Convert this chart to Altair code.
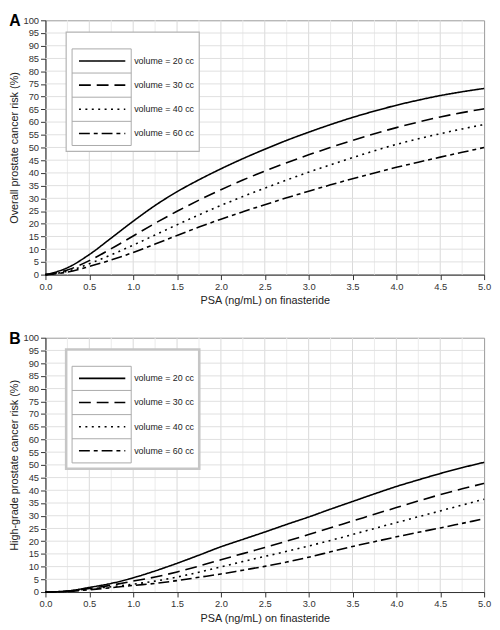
import altair as alt
import pandas as pd

psa = [0.0, 0.25, 0.5, 0.75, 1.0, 1.25, 1.5, 1.75, 2.0, 2.25, 2.5, 2.75, 3.0,
       3.25, 3.5, 3.75, 4.0, 4.25, 4.5, 4.75, 5.0]

series_names = ["volume = 20 cc", "volume = 30 cc", "volume = 40 cc", "volume = 60 cc"]

# Panel A: overall prostate cancer risk (%)
a_20 = [0, 2.7, 7.9, 14.4, 21.0, 27.2, 32.6, 37.3, 41.6, 45.6, 49.3, 52.8, 56.0,
        59.0, 61.8, 64.3, 66.6, 68.6, 70.4, 71.9, 73.2]
a_30 = [0, 1.8, 5.5, 10.2, 15.2, 20.2, 24.9, 29.3, 33.4, 37.2, 40.7, 44.0, 47.1,
        50.0, 52.8, 55.4, 57.8, 60.0, 62.0, 63.7, 65.2]
a_40 = [0, 1.3, 4.3, 7.8, 11.6, 15.6, 19.6, 23.5, 27.2, 30.7, 34.0, 37.2, 40.3,
        43.2, 46.0, 48.7, 51.2, 53.4, 55.4, 57.3, 59.0]
a_60 = [0, 1.0, 3.2, 5.8, 8.7, 12.0, 15.4, 18.7, 21.8, 24.7, 27.5, 30.2, 32.8,
        35.3, 37.7, 40.0, 42.2, 44.2, 46.2, 48.1, 50.0]

# Panel B: high-grade prostate cancer risk (%)
b_20 = [0, 0.4, 1.8, 3.4, 5.6, 8.3, 11.3, 14.5, 17.8, 20.7, 23.6, 26.6, 29.5,
        32.6, 35.6, 38.6, 41.5, 44.1, 46.6, 48.9, 51.0]
b_30 = [0, 0.35, 1.4, 2.7, 4.3, 5.9, 7.9, 10.2, 12.7, 15.1, 17.5, 20.0, 22.6,
        25.3, 27.9, 30.6, 33.2, 35.8, 38.3, 40.6, 42.7]
b_40 = [0, 0.3, 1.2, 2.1, 3.1, 4.3, 5.9, 7.8, 9.9, 12.0, 14.0, 16.0, 18.1,
        20.3, 22.6, 25.0, 27.3, 29.6, 31.9, 34.2, 36.5]
b_60 = [0, 0.25, 0.9, 1.7, 2.6, 3.4, 4.5, 5.8, 7.1, 8.6, 10.1, 11.8, 13.7,
        15.8, 17.9, 19.8, 21.7, 23.5, 25.2, 27.0, 28.8]

x_ticks = [0.0, 0.5, 1.0, 1.5, 2.0, 2.5, 3.0, 3.5, 4.0, 4.5, 5.0]
y_ticks = list(range(0, 101, 5))
x_grid_minor = [0.25, 0.75, 1.25, 1.75, 2.25, 2.75, 3.25, 3.75, 4.25, 4.75]
x_grid_major = [0.5, 1.0, 1.5, 2.0, 2.5, 3.0, 3.5, 4.0, 4.5]
y_grid = list(range(5, 100, 5))

dashes = [[1, 0], [12, 6], [2, 4.5], [11, 4, 4, 4]]

FONT = "Liberation Sans"
W, H = 445, 258


def long_df(cols):
    rows = []
    for name, vals in zip(series_names, cols):
        for x, y in zip(psa, vals):
            rows.append({"psa": x, "risk": y, "series": name})
    return pd.DataFrame(rows)


def panel(cols, ytitle, letter, box_color, box_width):
    df = long_df(cols)
    xs = alt.Scale(domain=[0, 5], nice=False)
    ys = alt.Scale(domain=[0, 100], nice=False)
    xaxis = alt.Axis(values=x_ticks, format=".1f", title="PSA (ng/mL) on finasteride")
    yaxis = alt.Axis(values=y_ticks, title=ytitle)

    gminor = alt.Chart(pd.DataFrame({"g": x_grid_minor})).mark_rule(
        color="#ebebeb", strokeWidth=1).encode(x=alt.X("g:Q", scale=xs, axis=xaxis))
    gmajor = alt.Chart(pd.DataFrame({"g": x_grid_major})).mark_rule(
        color="#d9d9d9", strokeWidth=1).encode(x=alt.X("g:Q", scale=xs, axis=xaxis))
    gy = alt.Chart(pd.DataFrame({"g": y_grid})).mark_rule(
        color="#e0e0e0", strokeWidth=1).encode(y=alt.Y("g:Q", scale=ys, axis=yaxis))

    lines = alt.Chart(df).mark_line(color="black", strokeWidth=1.6,
                                    interpolate="monotone").encode(
        x=alt.X("psa:Q", scale=xs, axis=xaxis),
        y=alt.Y("risk:Q", scale=ys, axis=yaxis),
        strokeDash=alt.StrokeDash("series:N",
                                  scale=alt.Scale(domain=series_names, range=dashes),
                                  legend=None),
        detail="series:N",
    )

    layers = [gminor, gmajor, gy, lines]

    # legend box
    layers.append(alt.Chart(pd.DataFrame({"a": [0]})).mark_rect(
        fill="white", stroke=box_color, strokeWidth=box_width).encode(
        x=alt.value(21), x2=alt.value(156), y=alt.value(12), y2=alt.value(133)))
    layers.append(alt.Chart(pd.DataFrame({"a": [0]})).mark_rect(
        fill="white", stroke="#aaaaaa", strokeWidth=1).encode(
        x=alt.value(27), x2=alt.value(87), y=alt.value(29), y2=alt.value(127)))
    row_h = 24.5
    for i, name in enumerate(series_names):
        cy = 29 + row_h * (i + 0.5)
        if i > 0:
            layers.append(alt.Chart(pd.DataFrame({"a": [0]})).mark_rule(
                color="#aaaaaa", strokeWidth=1).encode(
                x=alt.value(27), x2=alt.value(87), y=alt.value(29 + row_h * i)))
        layers.append(alt.Chart(pd.DataFrame({"a": [0]})).mark_rule(
            color="black", strokeWidth=1.6, strokeDash=dashes[i]).encode(
            x=alt.value(34), x2=alt.value(81), y=alt.value(cy)))
        layers.append(alt.Chart(pd.DataFrame({"t": [name]})).mark_text(
            align="left", baseline="middle", font=FONT, fontSize=9,
            color="#222222").encode(
            x=alt.value(90), y=alt.value(cy), text="t:N"))

    return alt.layer(*layers).properties(
        width=W, height=H,
        title=alt.TitleParams(letter, anchor="start", frame="bounds",
                              fontSize=16, fontWeight="bold", font=FONT,
                              color="black", offset=-14),
    )


pa = panel([a_20, a_30, a_40, a_60], "Overall prostate cancer risk (%)", "A",
           "#b4b4b4", 1.2)
pb = panel([b_20, b_30, b_40, b_60], "High-grade prostate cancer risk (%)", "B",
           "#c6c6c6", 2.6)

chart = alt.vconcat(pa, pb, spacing=24).properties(padding=0).configure_view(
    stroke="#999999", strokeWidth=1
).configure_axis(
    labelFont=FONT, titleFont=FONT, labelFontSize=9.5, titleFontSize=11,
    labelColor="#333333", titleColor="#222222", titleFontWeight="normal",
    domainColor="#333333", tickColor="#333333", tickSize=5, grid=False,
    labelPadding=2, labelOverlap=False, labelFlush=False,
).configure_axisX(titlePadding=4).configure_axisY(titlePadding=3)

chart.save("out.html", embed_options={"renderer": "svg", "actions": False})
